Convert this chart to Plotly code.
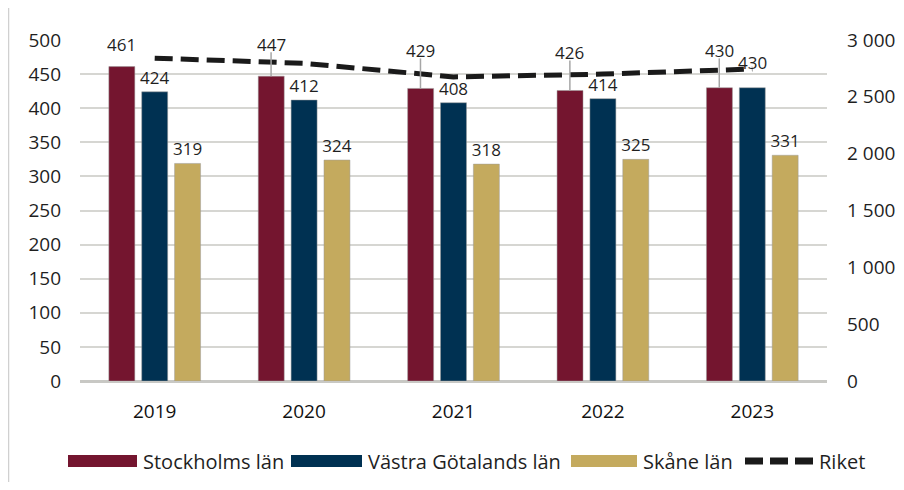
import plotly.graph_objects as go

years = ["2019", "2020", "2021", "2022", "2023"]
stockholm = [461, 447, 429, 426, 430]
vastra = [424, 412, 408, 414, 430]
skane = [319, 324, 318, 325, 331]
riket = [2840, 2795, 2675, 2700, 2745]

left_ticks = list(range(0, 501, 50))
right_ticks = list(range(0, 3001, 500))
right_ticktext = [f"{v:,}".replace(",", " ") for v in right_ticks]

C_STO = "#74152F"
C_VGL = "#003152"
C_SKA = "#C4AA5E"
FONT = "Open Sans"
TXT = "#1F1F1F"

# page offset (body margin) and plot area in page pixels
OFF = 8
W, H = 904 - 2 * OFF, 490 - 2 * OFF
PL, PR, PT, PB = 80, 827, 40, 381
def px(x):
    return (x - PL) / (PR - PL)
def py(y):
    return (PB - y) / (PB - PT)

fig = go.Figure()
bar_line = dict(color="#9A9A9A", width=0.5)
lab_font = dict(size=17, color=TXT, family=FONT)
fig.add_trace(go.Bar(x=years, y=stockholm, name="Stockholms län", marker_color=C_STO,
                     marker_line=bar_line))
fig.add_trace(go.Bar(x=years, y=vastra, name="Västra Götalands län", marker_color=C_VGL,
                     marker_line=bar_line,
                     text=[str(v) if i < len(vastra) - 1 else "" for i, v in enumerate(vastra)],
                     textposition="outside", cliponaxis=False, constraintext="none",
                     textfont=lab_font))
fig.add_trace(go.Bar(x=years, y=skane, name="Skåne län", marker_color=C_SKA,
                     marker_line=bar_line,
                     text=[str(v) for v in skane], textposition="outside", cliponaxis=False,
                     constraintext="none", textfont=lab_font))
fig.add_trace(go.Scatter(x=years, y=riket, name="Riket", mode="lines", yaxis="y2",
                         line=dict(color="#1A1A1A", width=5, dash="18px,8px"), cliponaxis=False))

# Stockholm labels raised above the line with leader lines
bar_off = 0.221
label_level = [493, 494, 485, 482, 485]
for i, v in enumerate(stockholm):
    fig.add_annotation(x=i - bar_off, y=label_level[i], xref="x", yref="y", text=str(v),
                       showarrow=False, font=lab_font)
    if i > 0:
        fig.add_shape(type="line", xref="x", yref="y", x0=i - bar_off, x1=i - bar_off,
                      y0=v, y1=label_level[i] - 12, line=dict(color="#A6A6A6", width=1.5))
# last Västra label moved up above the line
last = len(vastra) - 1
fig.add_annotation(x=last, y=vastra[last], xref="x", yref="y", yshift=25, text=str(vastra[last]),
                   showarrow=False, font=lab_font)

# faint frame line on the left
fig.add_shape(type="line", xref="paper", yref="paper", x0=px(OFF + 0.5), x1=px(OFF + 0.5),
              y0=py(490), y1=py(0), line=dict(color="#D0D0D0", width=1.5))

# custom legend with wide swatches
leg_y = 461
leg_font = dict(size=20, color=TXT, family=FONT)
legend_items = [
    ("Stockholms län", C_STO, 68, 137),
    ("Västra Götalands län", C_VGL, 291, 362),
    ("Skåne län", C_SKA, 571, 637),
]
for name, col, x0, x1 in legend_items:
    fig.add_shape(type="rect", xref="paper", yref="paper", x0=px(x0), x1=px(x1),
                  y0=py(leg_y + 6), y1=py(leg_y - 6), fillcolor=col, line=dict(width=0))
    fig.add_annotation(xref="paper", yref="paper", x=px(x1 + 4), y=py(leg_y), text=name,
                       xanchor="left", yanchor="middle", showarrow=False, font=leg_font)
fig.add_shape(type="line", xref="paper", yref="paper", x0=px(745), x1=px(813),
              y0=py(leg_y), y1=py(leg_y), line=dict(color="#1A1A1A", width=7, dash="18px,7px"))
fig.add_annotation(xref="paper", yref="paper", x=px(817), y=py(leg_y), text="Riket",
                   xanchor="left", yanchor="middle", showarrow=False, font=leg_font)

fig.update_layout(
    width=W, height=H,
    margin=dict(l=PL - OFF, r=W - (PR - OFF), t=PT - OFF, b=H - (PB - OFF), autoexpand=False),
    paper_bgcolor="white", plot_bgcolor="white",
    barmode="group", bargap=0.34, bargroupgap=0.21,
    font=dict(family=FONT, size=19, color=TXT),
    showlegend=False,
    xaxis=dict(type="category", range=[-0.5, 4.5], showgrid=False, showline=False, ticks="",
               tickfont=dict(size=19, family=FONT, color="#111111"),
               ticklabelstandoff=17, automargin=False),
    yaxis=dict(range=[0, 500], tickvals=left_ticks, showgrid=True, gridcolor="#D6D6D2", gridwidth=1.5,
               zeroline=True, zerolinecolor="#C8C8C4", zerolinewidth=2.5, ticks="",
               ticklabelstandoff=18, showline=False, tickfont=dict(size=19), automargin=False),
    yaxis2=dict(range=[0, 3000], tickvals=right_ticks, ticktext=right_ticktext, overlaying="y",
                side="right", showgrid=False, zeroline=False, ticks="", ticklabelstandoff=19,
                tickfont=dict(size=19), automargin=False),
)

fig.write_html("out.html")
